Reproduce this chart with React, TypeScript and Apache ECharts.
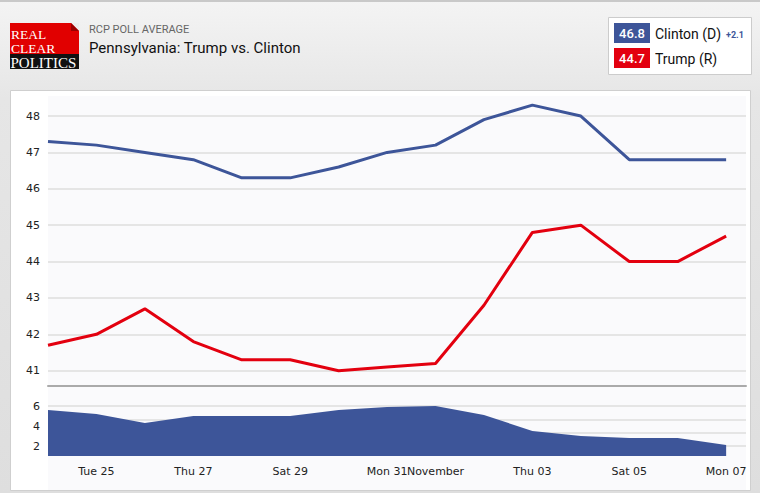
import React, { useEffect, useRef } from "react";
import * as echarts from "echarts";

// ---- data ----
const days = [
  "Mon 24", "Tue 25", "Wed 26", "Thu 27", "Fri 28", "Sat 29", "Sun 30", "Mon 31",
  "Tue 01", "Wed 02", "Thu 03", "Fri 04", "Sat 05", "Sun 06", "Mon 07",
];
const clinton = [47.3, 47.2, 47.0, 46.8, 46.3, 46.3, 46.6, 47.0, 47.2, 47.9, 48.3, 48.0, 46.8, 46.8, 46.8];
const trump = [41.7, 42.0, 42.7, 41.8, 41.3, 41.3, 41.0, 41.1, 41.2, 42.8, 44.8, 45.0, 44.0, 44.0, 44.7];
const spread = [5.6, 5.2, 4.3, 5.0, 5.0, 5.0, 5.6, 5.9, 6.0, 5.1, 3.5, 3.0, 2.8, 2.8, 2.1];
const xTickIdx = [1, 3, 5, 7, 8, 10, 12, 14];
const xTickLabels = ["Tue 25", "Thu 27", "Sat 29", "Mon 31", "November", "Thu 03", "Sat 05", "Mon 07"];
const upperTicks = [41, 42, 43, 44, 45, 46, 47, 48];
const lowerTicks = [2, 4, 6];
const lowerGridLines = [2, 3.33, 4.67, 6];

const BLUE = "#3d5599";
const RED = "#e3000f";
const AXIS_FONT = "'DejaVu Sans', Verdana, sans-serif";
const UI_FONT = "Roboto, 'Noto Sans', sans-serif";
const SERIF = "'Liberation Serif', 'DejaVu Serif', serif";

export default function App() {
  const ref = useRef<HTMLDivElement>(null);
  useEffect(() => {
    const chart = echarts.init(ref.current!, null, { renderer: "svg" });
    const gridLineStyle = { color: "#dedede", width: 1.5, type: "solid" as const };
    const xLabelFmt = (v: number) => {
      const k = xTickIdx.indexOf(Math.round(v * 1000) / 1000);
      return k >= 0 ? xTickLabels[k] : "";
    };
    const option: any = {
      animation: false,
      backgroundColor: {
        type: "linear", x: 0, y: 0, x2: 0, y2: 1,
        colorStops: [
          { offset: 0, color: "#f4f4f4" },
          { offset: 0.2, color: "#e6e6e6" },
          { offset: 1, color: "#dedede" },
        ],
      },
      graphic: [
        { type: "rect", shape: { x: 0, y: 0, width: 760, height: 2 }, style: { fill: "#c9c9c9" } },
        { type: "rect", shape: { x: 10.5, y: 90.5, width: 740, height: 400 }, style: { fill: "#ffffff", stroke: "#cfcfcf", lineWidth: 1 } },
        { type: "rect", shape: { x: 48, y: 96, width: 698, height: 394 }, style: { fill: "#fafafc" } },
        // logo
        { type: "rect", shape: { x: 10, y: 23, width: 69, height: 31 }, style: { fill: "#e10000" } },
        { type: "rect", shape: { x: 10, y: 54, width: 69, height: 15 }, style: { fill: "#111111" } },
        { type: "polygon", shape: { points: [[71, 23], [79, 23], [79, 31]] }, style: { fill: "#ececec" } },
        { type: "polygon", shape: { points: [[71, 23], [79, 31], [71, 31]] }, style: { fill: "#9a0000" } },
        { type: "text", style: { x: 11, y: 34.5, text: "REAL", fill: "#fff", font: `13.5px ${SERIF}`, verticalAlign: "middle" } },
        { type: "text", style: { x: 11, y: 48, text: "CLEAR", fill: "#fff", font: `13.5px ${SERIF}`, verticalAlign: "middle" } },
        { type: "text", style: { x: 10.5, y: 62.5, text: "POLITICS", fill: "#fff", font: `15px ${SERIF}`, verticalAlign: "middle" } },
        // titles
        { type: "text", style: { x: 89, y: 29, text: "RCP POLL AVERAGE", fill: "#666", font: `11px ${UI_FONT}`, verticalAlign: "middle" } },
        { type: "text", style: { x: 89, y: 48, text: "Pennsylvania: Trump vs. Clinton", fill: "#111", font: `15px ${UI_FONT}`, verticalAlign: "middle" } },
        // legend box
        { type: "rect", shape: { x: 608.5, y: 17.5, width: 143, height: 57 }, style: { fill: "#fff", stroke: "#cccccc", lineWidth: 1 } },
        { type: "rect", shape: { x: 614, y: 23, width: 36, height: 20 }, style: { fill: BLUE } },
        { type: "rect", shape: { x: 614, y: 48, width: 36, height: 20 }, style: { fill: RED } },
        { type: "text", style: { x: 632, y: 33.5, text: "46.8", fill: "#fff", font: `500 13px ${UI_FONT}`, align: "center", verticalAlign: "middle" } },
        { type: "text", style: { x: 632, y: 58.5, text: "44.7", fill: "#fff", font: `500 13px ${UI_FONT}`, align: "center", verticalAlign: "middle" } },
        { type: "text", style: { x: 655, y: 33.5, text: "Clinton (D)", fill: "#111", font: `14px ${UI_FONT}`, verticalAlign: "middle" } },
        { type: "text", style: { x: 726, y: 35, text: "+2.1", fill: BLUE, font: `bold 9px ${UI_FONT}`, verticalAlign: "middle" } },
        { type: "text", style: { x: 655, y: 58.5, text: "Trump (R)", fill: "#111", font: `14px ${UI_FONT}`, verticalAlign: "middle" } },
      ],
      grid: [
        { left: 48, right: 14, top: 96, height: 290 },
        { left: 48, right: 14, top: 386, height: 70 },
      ],
      xAxis: [
        {
          type: "value", gridIndex: 0, min: 0, max: 14.41,
          axisLine: { show: true, onZero: false, lineStyle: { color: "#aaaaaa", width: 2 } },
          axisTick: { show: false }, axisLabel: { show: false }, splitLine: { show: false },
        },
        {
          type: "value", gridIndex: 1, min: 0, max: 14.41, interval: 1,
          axisLine: { show: false }, axisTick: { show: false }, splitLine: { show: false },
          axisLabel: {
            show: true, margin: 10, color: "#222", fontSize: 11, fontFamily: AXIS_FONT,
            formatter: xLabelFmt, showMinLabel: true, showMaxLabel: true, hideOverlap: false,
          },
        },
      ],
      yAxis: [
        {
          type: "value", gridIndex: 0, min: 40.58, max: 48.55,
          axisLine: { show: false }, axisTick: { show: false }, splitLine: { show: false },
          axisLabel: {
            customValues: upperTicks, margin: 8, color: "#222", fontSize: 11, fontFamily: AXIS_FONT,
            formatter: (v: number) => (Number.isInteger(v) ? String(v) : ""),
          },
        },
        {
          type: "value", gridIndex: 1, min: 1, max: 8,
          axisLine: { show: false }, axisTick: { show: false }, splitLine: { show: false },
          axisLabel: {
            customValues: lowerTicks, margin: 8, color: "#222", fontSize: 11, fontFamily: AXIS_FONT,
            formatter: (v: number) => (lowerTicks.indexOf(v) >= 0 ? String(v) : ""),
          },
        },
      ],
      series: [
        {
          type: "line", xAxisIndex: 0, yAxisIndex: 0, data: [], z: 1, silent: true,
          markLine: {
            silent: true, symbol: "none", label: { show: false }, lineStyle: gridLineStyle,
            data: upperTicks.map((v) => ({ yAxis: v })),
          },
        },
        {
          type: "line", xAxisIndex: 1, yAxisIndex: 1, data: [], z: 1, silent: true,
          markLine: {
            silent: true, symbol: "none", label: { show: false }, lineStyle: gridLineStyle,
            data: lowerGridLines.map((v) => ({ yAxis: v })),
          },
        },
        {
          name: "Clinton (D)", type: "line", xAxisIndex: 0, yAxisIndex: 0, z: 10,
          data: clinton.map((v, i) => [i, v]), symbol: "none",
          lineStyle: { color: BLUE, width: 3 }, itemStyle: { color: BLUE },
        },
        {
          name: "Trump (R)", type: "line", xAxisIndex: 0, yAxisIndex: 0, z: 10,
          data: trump.map((v, i) => [i, v]), symbol: "none",
          lineStyle: { color: RED, width: 3 }, itemStyle: { color: RED },
        },
        {
          name: "Spread", type: "line", xAxisIndex: 1, yAxisIndex: 1, z: 10,
          data: spread.map((v, i) => [i, v]), symbol: "none",
          lineStyle: { width: 0 }, itemStyle: { color: BLUE },
          areaStyle: { color: BLUE, opacity: 1, origin: "start" },
        },
      ],
    };
    chart.setOption(option);
    return () => chart.dispose();
  }, []);
  return (
    <div
      ref={ref}
      data-days={days.length}
      style={{ position: "absolute", left: 0, top: 0, width: 760, height: 493 }}
    />
  );
}
